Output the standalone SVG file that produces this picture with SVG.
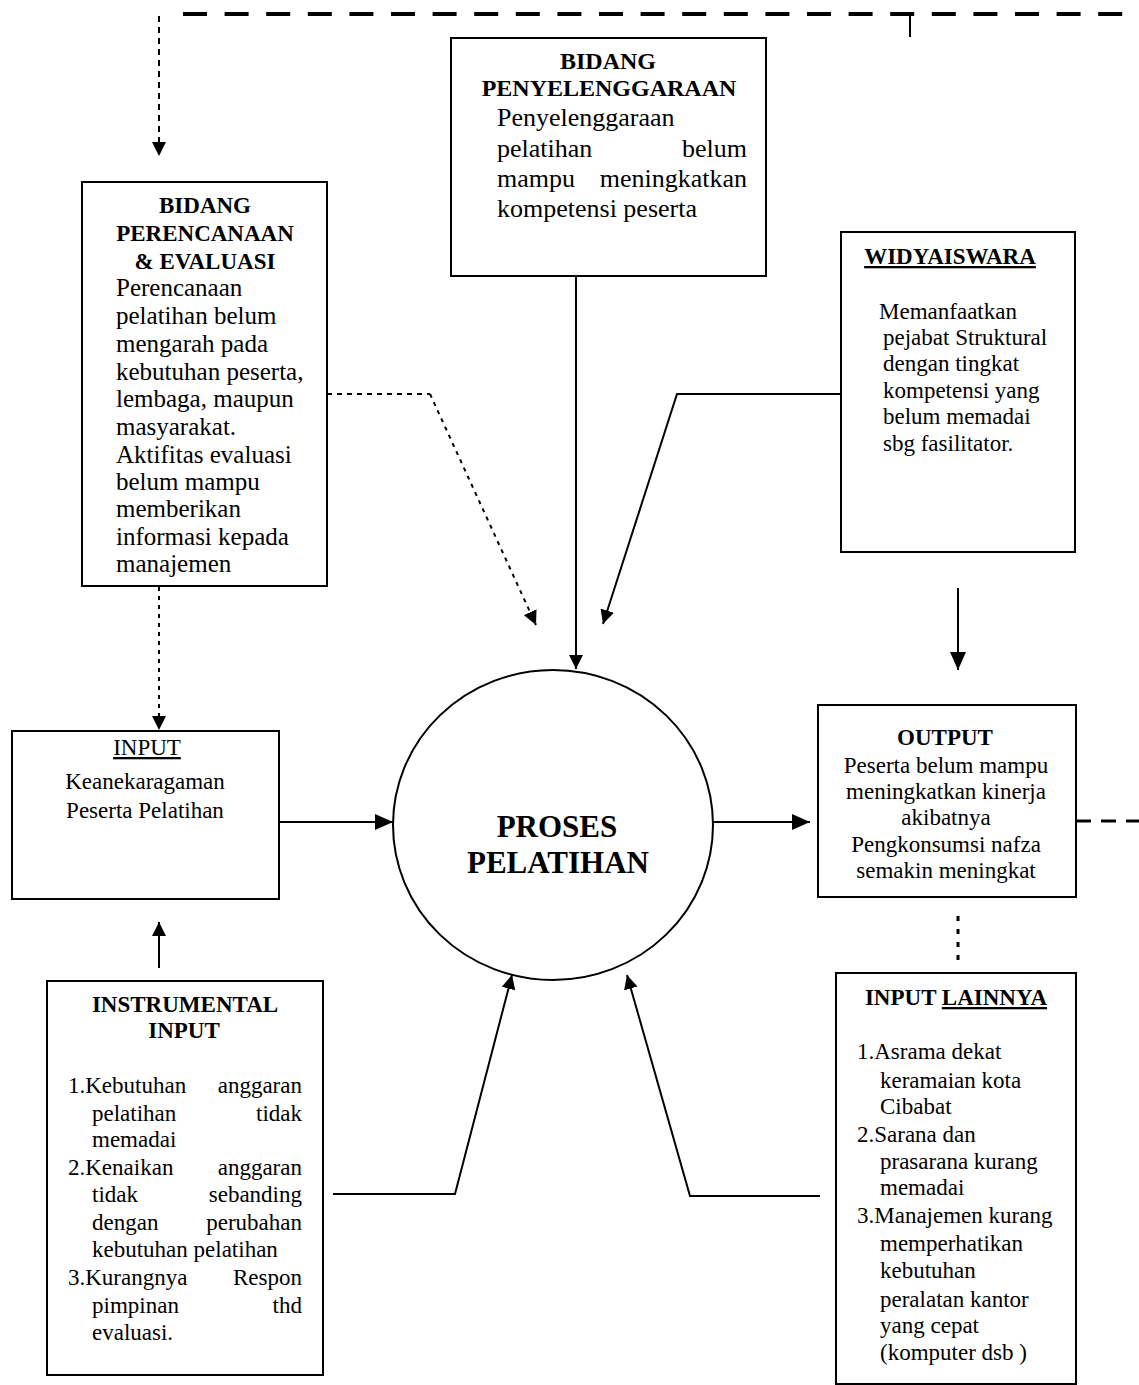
<svg xmlns="http://www.w3.org/2000/svg" width="1139" height="1385" viewBox="0 0 1139 1385">
<style>
.t{font-family:"Liberation Serif","Times New Roman",serif;font-size:23px;fill:#000}
.b{font-weight:bold}
.c{text-anchor:middle}
.e{text-anchor:end}
.u{text-decoration:underline}
.l{font-size:25px}
.m{font-size:26px}
.box{fill:#fff;stroke:#000;stroke-width:2}
.ln{fill:none;stroke:#000;stroke-width:2}
</style>
<defs>
<marker id="ah" markerUnits="userSpaceOnUse" markerWidth="14" markerHeight="14" refX="14" refY="7" orient="auto"><path d="M0,0 L14,7 L0,14 z" fill="#000"/></marker>
<marker id="ahb" markerUnits="userSpaceOnUse" markerWidth="18" markerHeight="16" refX="18" refY="8" orient="auto"><path d="M0,0 L18,8 L0,16 z" fill="#000"/></marker>
</defs>
<rect width="1139" height="1385" fill="#fff"/>

<g id="connectors">
<path d="M183,14 H1139" fill="none" stroke="#000" stroke-width="4" stroke-dasharray="24,17.6"/>
<path d="M910,14 V37" class="ln" stroke-width="1.5"/>
<path d="M159,16 V156" class="ln" stroke-width="1.5" stroke-dasharray="6,5" marker-end="url(#ah)"/>
<path d="M327,394 H430" class="ln" stroke-width="1.5" stroke-dasharray="5,5"/>
<path d="M430,394 L536,625" class="ln" stroke-width="2" stroke-dasharray="4,5" marker-end="url(#ah)"/>
<path d="M159,587 V730" class="ln" stroke-width="2" stroke-dasharray="4,5" marker-end="url(#ah)"/>
<path d="M576,276 V669" class="ln" marker-end="url(#ah)"/>
<path d="M841,394 H677 L603,624" class="ln" stroke-width="2.5" marker-end="url(#ah)"/>
<path d="M958,588 V670" class="ln" stroke-width="3" marker-end="url(#ahb)"/>
<path d="M279,822 H393" class="ln" stroke-width="3.5" marker-end="url(#ahb)"/>
<path d="M704,822 H810" class="ln" stroke-width="3.5" marker-end="url(#ahb)"/>
<path d="M1076,821 H1139" fill="none" stroke="#000" stroke-width="3" stroke-dasharray="15,10"/>
<path d="M958,916 V966" fill="none" stroke="#000" stroke-width="3" stroke-dasharray="5,8"/>
<path d="M159,968 V922" class="ln" marker-end="url(#ah)"/>
<path d="M333,1194 H455 L512,975" class="ln" marker-end="url(#ah)"/>
<path d="M820,1196 H690 L627,975" class="ln" marker-end="url(#ah)"/>
</g>

<g id="perencanaan">
<rect class="box" x="82" y="182" width="245" height="404"/>
<text class="t b c" x="205" y="213">BIDANG</text>
<text class="t b c" x="205" y="241">PERENCANAAN</text>
<text class="t b c" x="205" y="269">&amp; EVALUASI</text>
<text class="t l" x="116" y="296">Perencanaan</text>
<text class="t l" x="116" y="324">pelatihan belum</text>
<text class="t l" x="116" y="352">mengarah pada</text>
<text class="t l" x="116" y="380">kebutuhan peserta,</text>
<text class="t l" x="116" y="407">lembaga, maupun</text>
<text class="t l" x="116" y="435">masyarakat.</text>
<text class="t l" x="116" y="463">Aktifitas evaluasi</text>
<text class="t l" x="116" y="490">belum mampu</text>
<text class="t l" x="116" y="517">memberikan</text>
<text class="t l" x="116" y="545">informasi kepada</text>
<text class="t l" x="116" y="572">manajemen</text>
</g>

<g id="penyelenggaraan">
<rect class="box" x="451" y="38" width="315" height="238"/>
<text class="t b c" x="608" y="69" style="font-size:24px">BIDANG</text>
<text class="t b c" x="609" y="96" style="font-size:24px">PENYELENGGARAAN</text>
<text class="t m" x="497" y="126">Penyelenggaraan</text>
<text class="t m" x="497" y="157">pelatihan</text>
<text class="t m e" x="747" y="157">belum</text>
<text class="t m" x="497" y="187">mampu</text>
<text class="t m e" x="747" y="187">meningkatkan</text>
<text class="t m" x="497" y="217">kompetensi peserta</text>
</g>

<g id="widyaiswara">
<rect class="box" x="841" y="232" width="234" height="320"/>
<text class="t b c u" x="950" y="264">WIDYAISWARA</text>
<text class="t" x="879" y="319">Memanfaatkan</text>
<text class="t" x="883" y="345">pejabat Struktural</text>
<text class="t" x="883" y="371">dengan tingkat</text>
<text class="t" x="883" y="398">kompetensi yang</text>
<text class="t" x="883" y="424">belum memadai</text>
<text class="t" x="883" y="451">sbg fasilitator.</text>
</g>

<g id="proses">
<ellipse cx="553" cy="825" rx="160" ry="155" fill="#fff" stroke="#000" stroke-width="2"/>
<text class="t b c" x="557" y="837" style="font-size:31px">PROSES</text>
<text class="t b c" x="558" y="873" style="font-size:31px">PELATIHAN</text>
</g>

<g id="input">
<rect class="box" x="12" y="731" width="267" height="168"/>
<text class="t c u" x="147" y="755">INPUT</text>
<text class="t c" x="145" y="789">Keanekaragaman</text>
<text class="t c" x="145" y="818">Peserta Pelatihan</text>
</g>

<g id="output">
<rect class="box" x="818" y="705" width="258" height="192"/>
<text class="t b c" x="945" y="745">OUTPUT</text>
<text class="t c" x="946" y="773">Peserta belum mampu</text>
<text class="t c" x="946" y="799">meningkatkan kinerja</text>
<text class="t c" x="946" y="825">akibatnya</text>
<text class="t c" x="946" y="852">Pengkonsumsi nafza</text>
<text class="t c" x="946" y="878">semakin meningkat</text>
</g>

<g id="instrumental">
<rect class="box" x="47" y="981" width="276" height="394"/>
<text class="t b c" x="185" y="1012">INSTRUMENTAL</text>
<text class="t b c" x="184" y="1038">INPUT</text>
<text class="t" x="68" y="1093">1.Kebutuhan</text>
<text class="t e" x="302" y="1093">anggaran</text>
<text class="t" x="92" y="1121">pelatihan</text>
<text class="t e" x="302" y="1121">tidak</text>
<text class="t" x="92" y="1147">memadai</text>
<text class="t" x="68" y="1175">2.Kenaikan</text>
<text class="t e" x="302" y="1175">anggaran</text>
<text class="t" x="92" y="1202">tidak</text>
<text class="t e" x="302" y="1202">sebanding</text>
<text class="t" x="92" y="1230">dengan</text>
<text class="t e" x="302" y="1230">perubahan</text>
<text class="t" x="92" y="1257">kebutuhan pelatihan</text>
<text class="t" x="68" y="1285">3.Kurangnya</text>
<text class="t e" x="302" y="1285">Respon</text>
<text class="t" x="92" y="1313">pimpinan</text>
<text class="t e" x="302" y="1313">thd</text>
<text class="t" x="92" y="1340">evaluasi.</text>
</g>

<g id="input-lainnya">
<rect class="box" x="836" y="973" width="240" height="411"/>
<text class="t b c" x="956" y="1005">INPUT <tspan class="u">LAINNYA</tspan></text>
<text class="t" x="857" y="1059">1.Asrama dekat</text>
<text class="t" x="880" y="1088">keramaian kota</text>
<text class="t" x="880" y="1114">Cibabat</text>
<text class="t" x="857" y="1142">2.Sarana dan</text>
<text class="t" x="880" y="1169">prasarana kurang</text>
<text class="t" x="880" y="1195">memadai</text>
<text class="t" x="857" y="1223">3.Manajemen kurang</text>
<text class="t" x="880" y="1251">memperhatikan</text>
<text class="t" x="880" y="1278">kebutuhan</text>
<text class="t" x="880" y="1307">peralatan kantor</text>
<text class="t" x="880" y="1333">yang cepat</text>
<text class="t" x="880" y="1360">(komputer dsb )</text>
</g>
</svg>
